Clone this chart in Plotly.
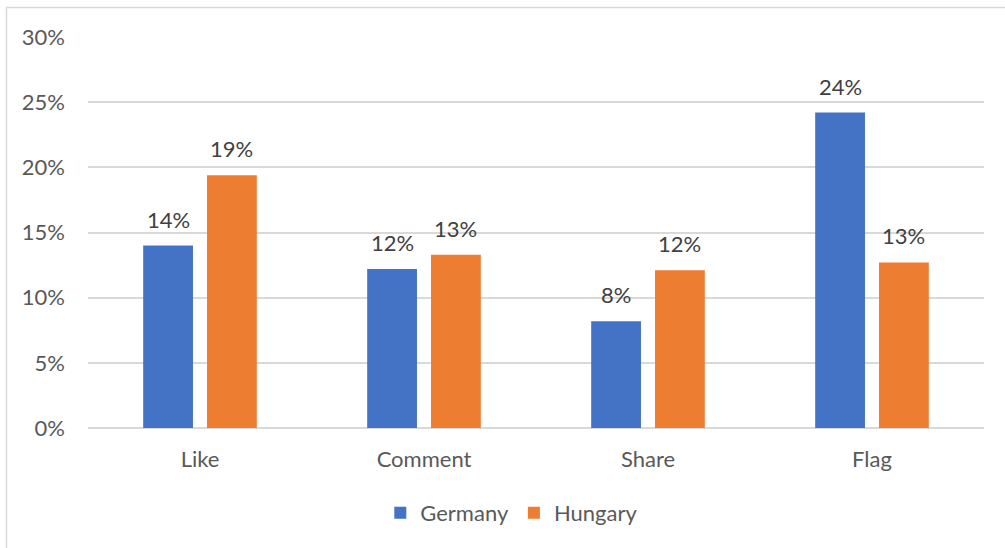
import plotly.graph_objects as go

categories = ["Like", "Comment", "Share", "Flag"]
germany = [0.140, 0.122, 0.082, 0.242]
hungary = [0.194, 0.133, 0.121, 0.127]
y_ticks = [0, 0.05, 0.10, 0.15, 0.20, 0.25, 0.30]
y_tick_labels = ["0%", "5%", "10%", "15%", "20%", "25%", "30%"]

W, H = 1005, 548
margin = dict(l=88, r=21, t=37, b=120)
bargap = 0.43
bargroupgap = 0.22

FONT = "Lato"
FS = 22
TXT = "#595959"
LBL = "#404040"

fig = go.Figure()
fig.add_trace(go.Bar(name="Germany", x=categories, y=germany,
                     marker=dict(color="#4472C4", line=dict(width=0))))
fig.add_trace(go.Bar(name="Hungary", x=categories, y=hungary,
                     marker=dict(color="#ED7D31", line=dict(width=0))))

# value labels above each bar, offset sideways to the bar's group slot
plot_w = W - margin["l"] - margin["r"]
slot = plot_w / len(categories)
bar_slot = slot * (1 - bargap) / 2
annotations = []
for series, sign in ((germany, -1), (hungary, 1)):
    for c, v in zip(categories, series):
        annotations.append(dict(
            x=c, y=v, xref="x", yref="y", text=f"{round(v * 100):.0f}%",
            showarrow=False, yanchor="bottom", xshift=sign * bar_slot / 2,
            yshift=11, font=dict(family=FONT, size=FS, color=LBL)))

# chart-area frame
px_x = lambda p: (p - margin["l"]) / plot_w
plot_h = H - margin["t"] - margin["b"]
px_y = lambda p: (H - margin["b"] - p) / plot_h
shapes = [dict(type="rect", xref="paper", yref="paper",
               x0=px_x(6.5), x1=px_x(1010), y0=px_y(560), y1=px_y(7.5),
               line=dict(color="#D9D9D9", width=1.5), fillcolor="rgba(0,0,0,0)",
               layer="below")]

fig.update_layout(
    width=W, height=H, margin=margin,
    paper_bgcolor="white", plot_bgcolor="white",
    barmode="group", bargap=bargap, bargroupgap=bargroupgap,
    font=dict(family=FONT, size=FS, color=TXT),
    xaxis=dict(showgrid=False, showline=False, ticks="", tickfont=dict(size=FS, color=TXT),
               ticklabelstandoff=16),
    yaxis=dict(range=[0, 0.30], tickvals=y_ticks, ticktext=y_tick_labels,
               showgrid=True, gridcolor="#D9D9D9", gridwidth=1.5, zeroline=True,
               zerolinecolor="#D9D9D9", zerolinewidth=1.5, showline=False, ticks="",
               ticklabelstandoff=22, tickfont=dict(size=FS, color=TXT)),
    legend=dict(orientation="h", x=0.473, xanchor="center", y=-0.217, yanchor="middle",
                font=dict(size=FS, color=TXT), itemwidth=30, tracegroupgap=0),
    showlegend=True,
    annotations=annotations,
    shapes=shapes,
)

fig.write_html("out.html")
